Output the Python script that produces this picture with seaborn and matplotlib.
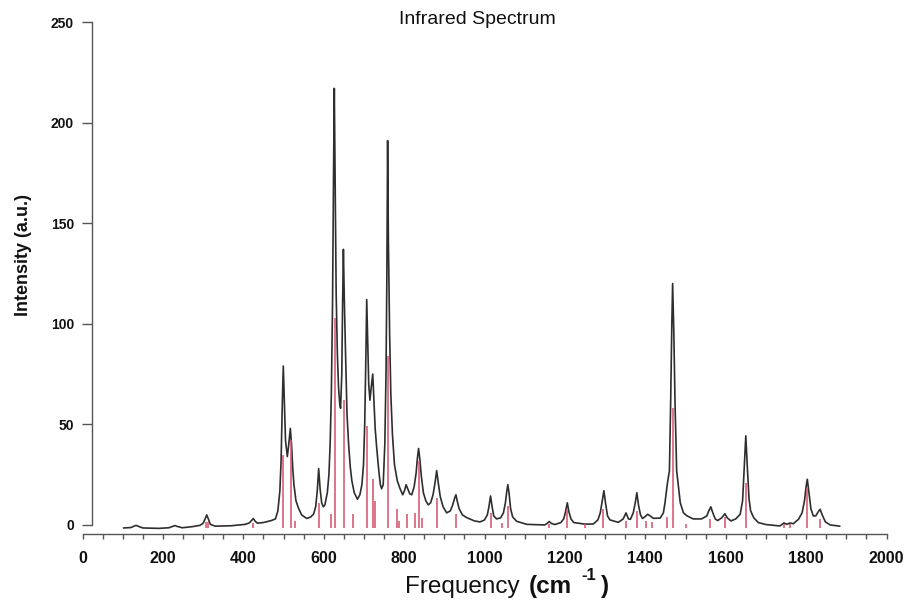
import matplotlib
matplotlib.use("Agg")
import matplotlib.pyplot as plt
import seaborn as sns
import pandas as pd

# broadened spectrum (frequency in cm-1, intensity a.u.)
curve_freq = [
    102, 120, 128, 133, 138, 150, 190, 215, 225, 230, 235, 248, 275, 292, 300,
    305, 309, 313, 318, 330, 370, 405, 415, 421, 425, 429, 435, 450, 470, 480,
    486, 491, 494, 497, 499.5, 502, 505, 509.5, 513, 517, 520, 523, 526, 531,
    537, 545, 558, 568, 575, 580, 584, 587.5, 591, 595, 599,
    603, 609, 613, 616, 619, 622, 624.5, 626.4, 628.5, 631, 634, 637, 640, 642,
    645, 647, 649, 651, 654, 658, 662, 666, 670, 676, 684,
    690, 695, 699, 702, 705, 707, 709, 712, 715, 718, 722, 725, 728, 732, 737,
    741, 744, 748, 752, 755, 757, 759, 761, 764, 767, 771, 776, 783, 790, 796.5,
    801, 805, 809, 814, 819, 825, 830, 833, 836, 839, 843, 848, 854, 860, 866,
    872, 877, 881, 885, 890, 897, 906, 915, 921, 926, 929, 932, 937, 945, 956,
    975, 989, 1000, 1007, 1011, 1015, 1019, 1023, 1030, 1040, 1047, 1052, 1055,
    1058, 1061, 1065, 1070, 1080, 1105, 1150, 1156, 1161, 1166, 1175, 1190,
    1197, 1201, 1206, 1210, 1215, 1222, 1250, 1271, 1282, 1288, 1293, 1297,
    1301, 1306, 1312, 1333, 1345, 1352, 1358, 1363, 1370, 1375, 1379, 1383,
    1388, 1393, 1400, 1406, 1412, 1420, 1437, 1445, 1449, 1455, 1460, 1463,
    1466, 1468, 1471, 1474, 1478, 1487, 1495, 1503, 1519, 1540, 1553,
    1558, 1563, 1568, 1574, 1580, 1590, 1598, 1604, 1613, 1625, 1636, 1642,
    1646, 1650, 1654, 1658, 1662, 1670, 1681, 1700, 1735, 1745, 1752, 1760,
    1768, 1781, 1790, 1796, 1800, 1803, 1807, 1812, 1818, 1824, 1830, 1835,
    1840, 1848, 1860, 1884,
]
curve_int = [
    -1.5, -1.3, -0.6, -0.2, -0.6, -1.5, -1.7, -1.4, -0.7, -0.3, -0.7, -1.4, -0.8, -0.2, 0.8,
    3.0, 5.0, 3.0, 0.3, -0.6, -0.4, 0.3, 1.0, 2.3, 3.2, 2.0, 0.9, 1.2, 2.2, 3.0,
    7, 17, 32, 60, 79, 62, 42, 34, 40, 48, 40, 28, 20, 12,
    8.5, 5, 3.2, 4, 5.5, 9, 17, 28, 18, 11, 9,
    10, 16, 25, 40, 65, 110, 175, 217, 170, 115, 85, 68, 60, 58,
    75, 110, 137, 115, 88, 55, 40, 29, 22, 16, 12.8,
    15, 20, 30, 50, 85, 112, 95, 70, 62, 68, 75, 62, 48, 38, 27,
    20, 18, 20, 40, 75, 120, 191, 140, 95, 65, 45, 30, 22, 18, 15,
    17, 20, 18, 15.5, 15, 19, 26, 33, 38, 33, 24, 16, 12, 10, 11,
    15, 21, 27, 21, 14, 9, 6, 7, 10, 13.5, 15, 12, 8, 5, 3.6,
    2, 1.5, 2.5, 5, 9, 14.4, 9, 4.5, 3, 3.5, 6, 11, 16,
    20, 16, 8, 4, 1.8, 0.3, 0, 0.8, 1.7, 0.8, 0.2, 1.2,
    3, 6, 11, 6.5, 3, 1.2, 0.4, 0.5, 2.5, 6, 12, 17,
    11, 4.5, 2.5, 1.3, 3, 6, 3, 2.8, 6, 11, 16, 10,
    5, 3.2, 4.2, 5.3, 4.5, 3.3, 3.4, 6, 11, 20.7, 27, 60,
    100, 120, 95, 60, 27, 11, 6, 4.6, 3, 3, 4.5,
    7, 9, 6, 3, 2.2, 3.5, 5.6, 3.5, 2, 3, 5.3, 12,
    28, 44.3, 28, 13, 7, 3.5, 1.2, 0.2, -0.5, 1, 0.3, 1,
    0.6, 2.8, 6, 12, 19, 22.7, 16, 8, 4.5, 4.5, 6.5, 7.8,
    5, 1.5, 0, -0.6,
]

# calculated modes (stick spectrum)
stick_freq = [307, 312, 425, 498, 519, 529, 589, 617, 628, 650.5, 672, 707, 722,
              728, 761, 783, 787, 806.5, 827, 836, 844, 881, 929, 1015, 1043,
              1058, 1161, 1206, 1250, 1296, 1352, 1379, 1402, 1416, 1453, 1470,
              1501, 1562, 1598, 1651, 1745, 1760, 1803, 1835]
stick_int = [1.5, 1.5, 0.8, 35, 42, 2, 11, 5.3, 103, 62, 5.3, 49, 23,
             12, 84, 8, 2, 5.3, 6, 32, 3.6, 13.6, 5.3, 6, 1,
             9.5, 0.5, 8, 0.3, 8, 2, 7, 2.2, 1.5, 4, 58,
             0.5, 3, 4, 21, 0.5, 0.5, 18.5, 3]

x_ticks = list(range(0, 2001, 200))
y_ticks = list(range(0, 251, 50))

sns.set_style("ticks")
plt.rcParams["font.family"] = ["Liberation Sans", "DejaVu Sans"]

spec = pd.DataFrame({"freq": curve_freq, "intensity": curve_int})

W, H = 906, 600
fig = plt.figure(figsize=(W / 100, H / 100), dpi=100)
ax = fig.add_axes([82.5 / W, 66 / H, 804 / W, 512 / H])

sns.lineplot(data=spec, x="freq", y="intensity", ax=ax, color="#2e2e2e",
             linewidth=1.2, estimator=None, sort=False, zorder=2)
ax.vlines(stick_freq, -1.5, stick_int, color="#d4506c", linewidth=1.3,
          alpha=0.85, zorder=3)

ax.set_xlim(0, 2000)
ax.set_ylim(-4.5, 250)
ax.set_xticks(x_ticks)
ax.set_xticks(range(0, 2001, 50), minor=True)
ax.set_yticks(y_ticks)
ax.set_xlabel("")
ax.set_ylabel("")

for side in ["top", "right"]:
    ax.spines[side].set_visible(False)
ax.spines["left"].set_position(("data", 23))
ax.spines["left"].set_bounds(0, 250)
ax.spines["bottom"].set_bounds(0, 2000)
for side in ["left", "bottom"]:
    ax.spines[side].set_color("#555555")
    ax.spines[side].set_linewidth(1.0)

ax.tick_params(axis="x", which="both", length=3.8, width=1.0, color="#555555",
               pad=8.5, labelsize=11.5)
ax.tick_params(axis="y", which="major", length=7.2, width=1.0, color="#555555",
               pad=5.5, labelsize=10)
for lab in ax.get_xticklabels() + ax.get_yticklabels():
    lab.set_fontweight("bold")
    lab.set_color("#111111")

# title and axis labels, placed in pixel positions of the reference
fig.text(477.5 / W, 1 - 20 / H, "Infrared Spectrum", ha="center", va="center",
         fontsize=14, color="#111111")
fig.text(23.5 / W, 1 - 255 / H, "Intensity (a.u.)", ha="center", va="center",
         rotation=90, fontsize=13, fontweight="bold", color="#111111")
fig.text(405 / W, 1 - 593 / H, "Frequency", ha="left", va="baseline",
         fontsize=17.5, color="#111111")
fig.text(529 / W, 1 - 593 / H, "(cm", ha="left", va="baseline",
         fontsize=17.5, fontweight="bold", color="#111111")
fig.text(581 / W, 1 - 580 / H, "-1", ha="left", va="baseline",
         fontsize=12, fontweight="bold", color="#111111")
fig.text(601 / W, 1 - 593 / H, ")", ha="left", va="baseline",
         fontsize=17.5, fontweight="bold", color="#111111")

fig.savefig("out.png", dpi=100, facecolor="white")
